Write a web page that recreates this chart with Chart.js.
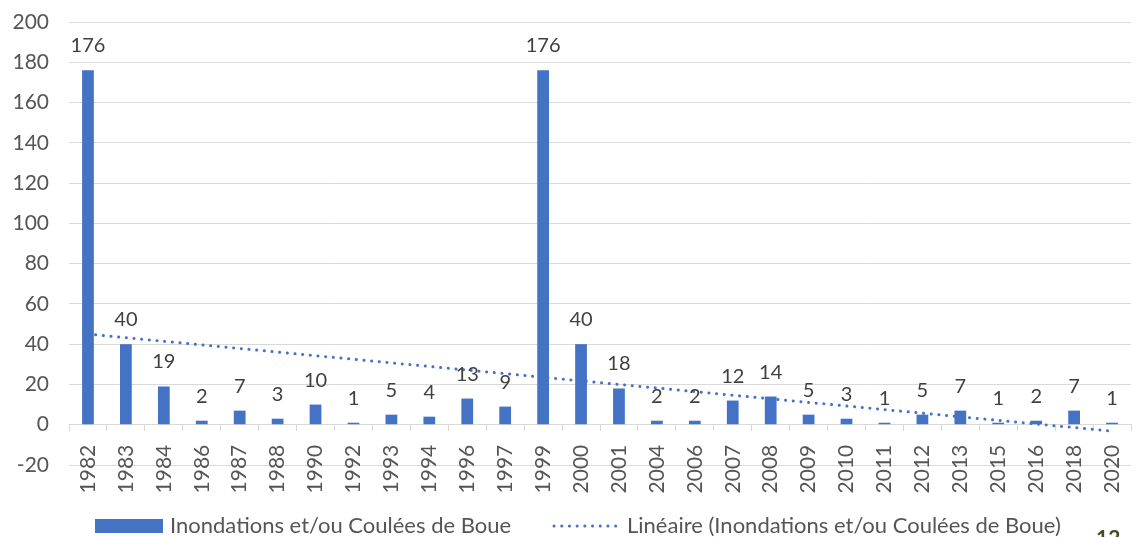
<!DOCTYPE html>
<html><head><meta charset="utf-8">
<script src="https://cdn.jsdelivr.net/npm/chart.js"></script>
<style>
html,body{margin:0;padding:0;background:#fff;overflow:hidden}
#wrap{position:relative;width:1142px;height:537px;overflow:hidden}
#pg{position:absolute;left:1096px;top:524px;font:bold 21px Lato;color:#4a4a20}
</style></head><body>
<div id="wrap"><canvas id="c" width="1142" height="537"></canvas><div id="pg">12</div></div>
<script>
const categories = ['1982','1983','1984','1986','1987','1988','1990','1992','1993','1994','1996','1997','1999','2000','2001','2004','2006','2007','2008','2009','2010','2011','2012','2013','2015','2016','2018','2020'];
const values = [176,40,19,2,7,3,10,1,5,4,13,9,176,40,18,2,2,12,14,5,3,1,5,7,1,2,7,1];
const trendStart = 45;
const trendEnd = -3.2;
const trendValues = categories.map((c, i) => i === 0 ? trendStart : (i === categories.length - 1 ? trendEnd : null));
const seriesLabel = 'Inondations et/ou Coulées de Boue';
const trendLabel = 'Linéaire (Inondations et/ou Coulées de Boue)';
const yMin = -20, yMax = 200, yStep = 20;

const BLUE = '#4472C4';
const TXT = '#555555';
const FONT = 'Lato';

const barLabels = {
  id: 'barLabels',
  afterDatasetsDraw(chart) {
    const ctx = chart.ctx;
    const meta = chart.getDatasetMeta(0);
    ctx.save();
    ctx.font = '20px ' + FONT;
    ctx.fillStyle = '#404040';
    ctx.textAlign = 'center';
    ctx.textBaseline = 'alphabetic';
    meta.data.forEach((bar, i) => {
      ctx.fillText(String(values[i]), bar.x, bar.y - 18);
    });
    ctx.restore();
  }
};

const customLegend = {
  id: 'customLegend',
  afterDraw(chart) {
    const ctx = chart.ctx;
    const ds = chart.data.datasets;
    ctx.save();
    ctx.fillStyle = ds[0].backgroundColor;
    ctx.fillRect(95, 519, 68, 14);
    ctx.font = '22px ' + FONT;
    ctx.fillStyle = TXT;
    ctx.textAlign = 'left';
    ctx.textBaseline = 'alphabetic';
    ctx.fillText(ds[0].label, 170, 533);
    ctx.beginPath();
    ctx.strokeStyle = ds[1].borderColor;
    ctx.lineWidth = 3;
    ctx.lineCap = 'round';
    ctx.setLineDash([0.1, 7.6]);
    ctx.moveTo(554, 526);
    ctx.lineTo(622, 526);
    ctx.stroke();
    ctx.setLineDash([]);
    ctx.fillText(ds[1].label, 627, 533);
    ctx.restore();
  }
};

new Chart(document.getElementById('c'), {
  type: 'bar',
  data: {
    labels: categories,
    datasets: [
      { type: 'bar', label: seriesLabel, data: values, backgroundColor: BLUE,
        barPercentage: 0.31, categoryPercentage: 1, order: 1 },
      { type: 'line', label: trendLabel, data: trendValues, spanGaps: true,
        borderColor: BLUE, backgroundColor: BLUE, borderWidth: 3, borderDash: [0.1, 7.6],
        borderCapStyle: 'round', pointRadius: 0, pointHoverRadius: 0, fill: false, order: 0 }
    ]
  },
  options: {
    responsive: false,
    animation: false,
    layout: { autoPadding: false, padding: { top: 22, right: 11, bottom: 72, left: 0 } },
    plugins: { legend: { display: false }, tooltip: { enabled: false } },
    scales: {
      x: {
        position: { y: 0 },
        grid: { display: true, drawOnChartArea: false, drawTicks: true, tickLength: 6, color: '#d9d9d9', offset: true },
        border: { display: true, color: '#d9d9d9', width: 1 },
        ticks: { minRotation: 90, maxRotation: 90, autoSkip: false, font: { family: FONT, size: 21 }, color: TXT, padding: 14 },
        afterFit(s) { s.paddingLeft = 0; s.paddingRight = 0; s.paddingTop = 0; s.paddingBottom = 0; }
      },
      y: {
        min: yMin, max: yMax,
        ticks: { stepSize: yStep, font: { family: FONT, size: 21 }, color: TXT, padding: 20 },
        grid: { color: '#d9d9d9', drawTicks: false },
        border: { display: false },
        afterFit(s) { s.width = 69; s.paddingTop = 0; s.paddingBottom = 0; }
      }
    }
  },
  plugins: [barLabels, customLegend]
});
</script>
</body></html>
